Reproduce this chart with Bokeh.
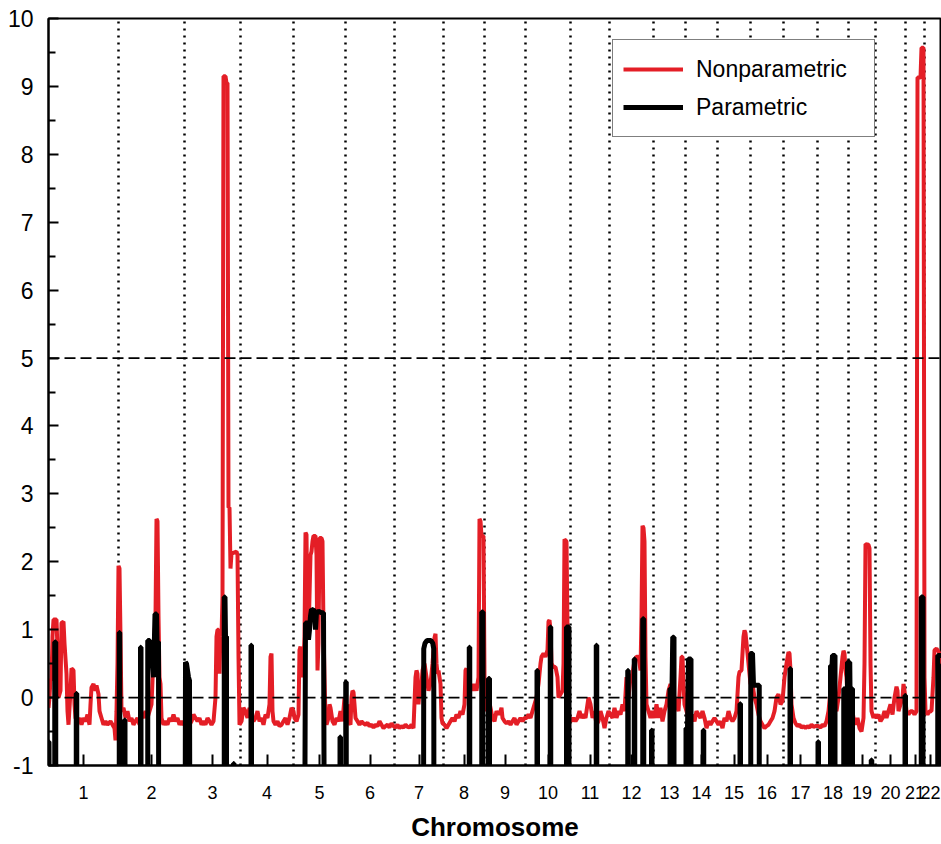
import numpy as np
from bokeh.plotting import figure
from bokeh.models import Legend, LegendItem, Span, FixedTicker, Range1d
from bokeh.embed import file_html
from bokeh.resources import INLINE

# ---------------- data ----------------
chromosomes = [str(i) for i in range(1, 23)]
chrom_lengths_cm = [280, 264, 224, 212, 208, 196, 196, 164, 164, 180, 156,
                    176, 128, 128, 132, 132, 136, 124, 108, 120, 76, 96]

# Nonparametric LOD (genome position in cM, LOD)
np_pos = [0, 4, 8, 12, 16, 20, 32, 36, 40, 48, 52, 60, 64, 72, 76, 80, 88, 92, 100, 104,
          108, 116, 124, 132, 140, 148, 156, 164, 168, 172, 180, 188, 192, 200, 204, 212,
          220, 228, 236, 248, 256, 264, 268, 272, 276,
          280, 284, 288, 292, 300, 308, 316, 324, 332, 340, 348, 356, 364, 372, 380, 388,
          396, 404, 412, 420, 428, 432, 436, 440, 444, 448, 452, 460, 468, 476, 484, 492,
          500, 508, 516, 524, 532, 540,
          548, 556, 564, 572, 580, 588, 596, 604, 612, 620, 628, 636, 644, 652, 660, 668,
          672, 676, 680, 684, 688, 692, 696, 700, 708, 712, 716, 720, 724, 728, 732, 752,
          756, 760, 764,
          772, 780, 788, 796, 804, 812, 820, 828, 836, 844, 852, 860, 868, 876, 884, 888,
          892, 896, 900, 908, 916, 924, 932, 940, 948, 956, 964, 972, 980,
          984, 992, 1000, 1004, 1008, 1012, 1020, 1024, 1028, 1032, 1036, 1040, 1044, 1048,
          1052, 1056, 1060, 1068, 1072, 1076, 1080, 1084, 1092, 1096, 1100, 1104, 1108,
          1112, 1120, 1124, 1128, 1136, 1144, 1152, 1160, 1168, 1176, 1184,
          1188, 1196, 1200, 1208, 1212, 1216, 1220, 1224, 1228, 1236, 1244, 1252, 1260,
          1268, 1276, 1284, 1292, 1300, 1308, 1316, 1324, 1332, 1340, 1348, 1356, 1364,
          1372, 1380,
          1388, 1396, 1404, 1412, 1420, 1428, 1436, 1444, 1452, 1460, 1468, 1472, 1476,
          1480, 1484, 1488, 1496, 1504, 1512, 1520, 1528, 1536, 1544, 1548, 1552, 1556,
          1560, 1568, 1572, 1576,
          1584, 1592, 1600, 1608, 1616, 1624, 1632, 1640, 1648, 1656, 1664, 1668, 1672,
          1676, 1680, 1688, 1696, 1704, 1712, 1720, 1724, 1728, 1732, 1740,
          1744, 1748, 1756, 1760, 1768, 1776, 1784, 1792, 1800, 1808, 1812, 1816, 1824,
          1832, 1840, 1848, 1856, 1864, 1872, 1880, 1888, 1896, 1904,
          1912, 1920, 1928, 1936, 1944, 1952, 1960, 1968, 1972, 1980, 1988, 1996, 2000,
          2004, 2008, 2012, 2020, 2028, 2036, 2040, 2048, 2056, 2060, 2064, 2072, 2076,
          2080, 2084,
          2092, 2100, 2108, 2116, 2124, 2132, 2140, 2148, 2156, 2160, 2168, 2176, 2184,
          2192, 2200, 2208, 2216, 2224, 2232, 2240,
          2248, 2256, 2264, 2272, 2280, 2288, 2296, 2304, 2312, 2320, 2328, 2336, 2344,
          2352, 2360, 2368, 2372, 2376, 2380, 2384, 2388, 2392, 2400, 2408, 2416,
          2424, 2432, 2440, 2448, 2456, 2464, 2472, 2480, 2488, 2496, 2504, 2512, 2520,
          2528, 2532, 2536, 2540, 2544,
          2552, 2560, 2568, 2576, 2584, 2592, 2600, 2608, 2616, 2624, 2632, 2640, 2648,
          2656, 2664, 2672,
          2680, 2688, 2696, 2704, 2712, 2720, 2728, 2736, 2744, 2752, 2760, 2764, 2772,
          2780, 2784, 2788, 2792, 2800,
          2808, 2816, 2824, 2832, 2840, 2848, 2856, 2864, 2872, 2880, 2888, 2896, 2904,
          2912, 2920, 2928, 2936,
          2944, 2952, 2960, 2964, 2968, 2972, 2980, 2988, 2996, 3004, 3012, 3020, 3028,
          3036, 3044, 3052, 3060, 3068,
          3080, 3088, 3096, 3104, 3112, 3120, 3128, 3136, 3144, 3152, 3160, 3168, 3176,
          3180, 3184, 3188, 3192, 3196,
          3204, 3212, 3220, 3228, 3236, 3244, 3252, 3260, 3264, 3268, 3280, 3284, 3288,
          3292, 3300, 3304,
          3312, 3320, 3328, 3336, 3344, 3352, 3360, 3368, 3376, 3384, 3392, 3396, 3400,
          3408, 3416, 3420, 3424,
          3432, 3440, 3448, 3456, 3464, 3472, 3476, 3488, 3492, 3500, 3504,
          3508, 3516, 3524, 3532, 3540, 3544, 3552, 3560, 3568, 3576]
np_lod = [-0.15, 0.0, 0.28, 0.25, 0.9, 1.15, 1.15, 0.7, 0.0, 0.1, 1.1, 1.12, 0.8, 0.35, -0.2,
          -0.4, 0.1, 0.43, 0.4, -0.1, -0.3, -0.35, -0.3, -0.4, -0.3, -0.35, -0.25, -0.4,
          -0.1, 0.15, 0.2, 0.1, 0.18, 0.05, -0.2, -0.3, -0.4, -0.35, -0.4, -0.35, -0.4,
          -0.45, -0.63, -0.2, 0.5,
          1.94, 1.9, 0.9, -0.2, -0.15, -0.3, -0.2, -0.35, -0.3, -0.4, -0.35, -0.3, -0.4,
          -0.25, -0.3, -0.2, -0.3, -0.2, -0.1, 0.6, 1.2, 2.63, 2.6, 1.2, 0.3, 0.2, -0.3,
          -0.4, -0.35, -0.4, -0.3, -0.35, -0.25, -0.35, -0.3, -0.4, -0.35, -0.4,
          -0.35, -0.3, -0.4, -0.35, -0.25, -0.3, -0.35, -0.3, -0.4, -0.35, -0.4, -0.3,
          -0.35, -0.4, -0.35, 0.0, 0.9, 1.0, 1.0, 0.35, 1.0, 0.9, 1.5, 9.15, 9.15, 9.05,
          9.05, 2.8, 2.8, 1.9, 2.12, 2.15, 2.1, 0.6, -0.4,
          -0.35, -0.15, -0.2, -0.3, -0.15, -0.25, -0.35, -0.3, -0.2, -0.35, -0.3, -0.4,
          -0.25, -0.3, -0.1, 0.6, 0.65, -0.2, -0.35, -0.4, -0.35, -0.42, -0.4, -0.35,
          -0.3, -0.4, -0.3, -0.15, -0.2,
          -0.3, -0.35, -0.25, 0.7, 0.75, 0.3, 0.5, 0.9, 2.43, 2.4, 0.9, 0.9, 1.5, 2.1,
          2.15, 2.3, 2.38, 2.38, 2.1, 0.4, 0.8, 2.35, 2.35, 2.3, 1.0, 0.3, -0.3, -0.4,
          -0.3, -0.1, -0.15, -0.35, -0.4, -0.3, -0.35, -0.2, -0.35, 0.0,
          -0.2, -0.1, -0.35, -0.4, 0.0, 0.1, 0.08, -0.1, -0.3, -0.35, -0.4, -0.35, -0.38,
          -0.4, -0.37, -0.42, -0.4, -0.44, -0.4, -0.42, -0.35, -0.4, -0.45, -0.42, -0.4,
          -0.44, -0.38, -0.42,
          -0.44, -0.4, -0.45, -0.42, -0.44, -0.4, -0.43, -0.44, -0.4, -0.45, 0.3, 0.4,
          0.35, -0.1, 0.1, 0.0, 0.4, 0.5, 0.3, 0.1, 0.2, 0.5, 0.88, 0.94, 0.5, 0.35, 0.4,
          0.2, -0.3, -0.38,
          -0.4, -0.45, -0.4, -0.35, -0.3, -0.35, -0.25, -0.3, -0.2, -0.25, -0.1, 0.4,
          0.43, 0.1, 0.0, 0.2, 0.1, 0.2, 0.1, 0.3, 2.63, 2.6, 2.38, 2.38,
          0.3, -0.2, -0.1, 0.0, -0.15, -0.3, -0.35, -0.2, -0.25, -0.2, -0.15, -0.3,
          -0.35, -0.38, -0.35, -0.4, -0.35, -0.3, -0.4, -0.35, -0.3, -0.35, -0.3,
          -0.3, -0.25, -0.3, -0.2, -0.1, 0.0, 0.2, 0.5, 0.6, 0.65, 0.6, 0.7, 1.12, 1.14,
          1.0, 0.5, 0.45, 0.45, 0.3, 0.0, 0.05, 0.1, 0.5, 2.33, 2.3, 1.0, -0.2, -0.3,
          -0.35, -0.3, -0.35, -0.3, -0.2, -0.3, -0.25, -0.3, -0.1, 0.0, -0.1, -0.3, -0.2,
          -0.4, -0.35, -0.2, -0.3, -0.45, -0.3, -0.2,
          -0.25, -0.3, -0.15, -0.3, -0.2, -0.25, -0.1, -0.2, 0.3, 0.0, 0.3, 0.35, 0.55,
          0.6, 0.6, 0.4, 1.2, 2.53, 2.5, 2.3, 0.6, -0.1, -0.2, -0.3, -0.2,
          -0.3, -0.1, -0.3, -0.15, -0.35, -0.2, -0.1, 0.1, 0.2, 0.1, 0.0, -0.1, -0.2,
          0.3, 0.6, 0.6, 0.2, -0.1,
          -0.2, -0.3, -0.35, -0.25, -0.35, -0.2, -0.25, -0.3, -0.2, -0.3, -0.45, -0.35,
          -0.4, -0.35, -0.3, -0.35,
          -0.4, -0.35, -0.45, -0.3, -0.35, -0.2, -0.3, -0.35, -0.3, -0.2, 0.3, 0.38, 0.4,
          0.9, 0.99, 0.95, 0.8, 0.5,
          0.2, 0.2, 0.0, -0.1, -0.25, -0.35, -0.4, -0.45, -0.42, -0.4, -0.35, -0.3, -0.2,
          0.0, 0.05, -0.1, -0.05,
          0.3, 0.5, 0.67, 0.65, 0.4, -0.1, -0.3, -0.38, -0.42, -0.4, -0.44, -0.42, -0.45,
          -0.42, -0.44, -0.4, -0.43, -0.42,
          -0.42, -0.44, -0.4, -0.42, -0.35, -0.2, 0.1, 0.4, -0.1, -0.2, 0.0, 0.3, 0.6,
          0.69, 0.65, 0.4, 0.3, 0.0,
          -0.2, -0.1, -0.3, -0.4, -0.3, -0.45, -0.5, -0.3, 0.5, 2.26, 2.25, 2.2, 0.5,
          -0.2, -0.3, -0.25,
          -0.3, -0.25, -0.35, -0.3, -0.2, -0.3, -0.2, -0.1, -0.25, 0.0, 0.16, 0.1, -0.2,
          -0.1, 0.0, 0.2, 0.1,
          -0.2, -0.25, -0.2, -0.2, -0.25, -0.2, 9.13, 9.13, 9.57, 9.57, 0.3,
          -0.2, -0.25, -0.2, -0.2, 0.3, 0.7, 0.72, 0.68, 0.6, 0.5]

# Parametric LOD (values far below -1 fall off the bottom of the axis)
p_pos = [0, 2, 4,
         25, 25, 29, 29, 111, 111, 113, 113,
         283, 283, 285, 285, 304, 304, 306, 306, 368, 368, 370, 370,
         397, 397, 405, 407, 415, 420, 426, 432, 434, 440, 441,
         546, 548, 552, 560, 564, 566,
         703, 703, 706, 708, 712, 712, 740, 740, 742, 742,
         810, 810, 812, 812,
         1024, 1028, 1036, 1040, 1044, 1048, 1052, 1064, 1068, 1072, 1080, 1092, 1100, 1104,
         1166, 1166, 1168, 1168, 1189, 1189, 1191, 1191,
         1500, 1501, 1506, 1514, 1530, 1537, 1541, 1542,
         1683, 1683, 1685, 1685, 1733, 1733, 1738, 1738, 1760, 1760, 1764, 1764,
         1954, 1954, 1956, 1956, 2007, 2007, 2009, 2009, 2072, 2072, 2082, 2082,
         2191, 2191, 2193, 2193,
         2317, 2317, 2319, 2319, 2343, 2343, 2345, 2345, 2377, 2377, 2381, 2381,
         2412, 2412, 2414, 2414,
         2486, 2486, 2494, 2497, 2502, 2502,
         2550, 2550, 2556, 2560, 2570, 2570, 2619, 2619, 2621, 2621,
         2766, 2766, 2768, 2768, 2809, 2809, 2816, 2820, 2843, 2843,
         2966, 2966, 2968, 2968, 3078, 3078, 3080, 3080,
         3128, 3128, 3134, 3136, 3146, 3146,
         3181, 3181, 3184, 3184, 3196, 3196, 3205, 3206, 3216, 3216,
         3291, 3291, 3293, 3293, 3426, 3426, 3428, 3428,
         3491, 3491, 3498, 3498, 3557, 3557, 3576]
p_lod = [-0.65, -0.65, -3,
         -3, 0.82, 0.82, -3, -3, 0.06, 0.06, -3,
         -3, 0.96, 0.96, -3, -3, -0.33, -0.33, -3, -3, 0.74, 0.74, -3,
         -3, 0.84, 0.84, 0.55, 0.55, 0.3, 1.23, 1.23, 0.82, 0.82, -3,
         -3, 0.52, 0.5, 0.3, 0.25, -3,
         -3, 1.48, 1.48, 0.9, 0.9, -3, -3, -0.97, -0.97, -3,
         -3, 0.77, 0.77, -3,
         -3, 1.1, 1.1, 0.85, 1.0, 1.2, 1.3, 1.28, 1.0, 1.25, 1.27, 1.25, 1.25, -3,
         -3, -0.58, -0.58, -3, -3, 0.23, 0.23, -3,
         -3, 0.72, 0.8, 0.84, 0.84, 0.8, 0.72, -3,
         -3, 0.74, 0.74, -3, -3, 1.26, 1.26, -3, -3, 0.28, 0.28, -3,
         -3, 0.4, 0.4, -3, -3, 1.04, 1.04, -3, -3, 1.04, 1.04, -3,
         -3, 0.77, 0.77, -3,
         -3, 0.4, 0.4, -3, -3, 0.57, 0.57, -3, -3, 1.16, 1.16, -3,
         -3, -0.48, -0.48, -3,
         -3, 0.13, 0.13, 0.89, 0.89, -3,
         -3, -0.45, -0.45, 0.57, 0.57, -3, -3, -0.48, -0.48, -3,
         -3, -0.09, -0.09, -3, -3, 0.65, 0.65, 0.18, 0.18, -3,
         -3, 0.43, 0.43, -3, -3, -0.65, -0.65, -3,
         -3, 0.47, 0.47, 0.62, 0.62, -3,
         -3, 0.13, 0.13, -3, -3, 0.52, 0.52, 0.13, 0.13, -3,
         -3, -0.92, -0.92, -3, -3, 0.03, 0.03, -3,
         -3, 1.48, 1.48, -3, -3, 0.62, 0.62]

y_ticks = list(range(-1, 11))
thresholds = [0, 5]

# ---------------- derived layout ----------------
starts = np.concatenate([[0], np.cumsum(chrom_lengths_cm)[:-1]])
ends = np.cumsum(chrom_lengths_cm)
X_END = 3572
boundaries = [int(b) for b in ends[:-1]]
centers = [int(min(s + l // 2, X_END - 44)) for s, l in zip(starts, chrom_lengths_cm)]

FONT = "Liberation Sans"
RED = "#e41e26"

p = figure(width=941, height=844, output_backend="svg", toolbar_location=None,
           x_range=Range1d(0, X_END), y_range=Range1d(-1, 10),
           min_border_left=48, min_border_top=18, min_border_right=0,
           min_border_bottom=77)
p.background_fill_color = "white"
p.border_fill_color = "white"
p.xgrid.visible = False
p.ygrid.visible = False
p.outline_line_color = "black"
p.outline_line_width = 2

# chromosome boundaries
p.segment(x0=boundaries, y0=[-1] * len(boundaries), x1=boundaries, y1=[10] * len(boundaries),
          line_color="black", line_width=2.5, line_dash="2 5")
for t in thresholds:
    p.add_layout(Span(location=t, dimension="width", line_color="black",
                      line_width=1.8, line_dash="11 5"))

r_np = p.line(np_pos, np_lod, line_color=RED, line_width=4)
r_p = p.line(p_pos, p_lod, line_color="black", line_width=5)

# axes
xa = p.xaxis[0]
xa.ticker = FixedTicker(ticks=centers)
xa.major_label_overrides = {c: n for c, n in zip(centers, chromosomes)}
xa.major_tick_in = 11
xa.major_tick_out = 0
xa.minor_tick_line_color = None
xa.major_tick_line_width = 2
xa.axis_line_width = 2
xa.axis_line_color = "black"
xa.major_label_text_font = FONT
xa.major_label_text_font_size = "18px"
xa.major_label_text_color = "black"
xa.major_label_standoff = 20
xa.axis_label = "Chromosome"
xa.axis_label_text_font = FONT
xa.axis_label_text_font_size = "26px"
xa.axis_label_text_font_style = "bold"
xa.axis_label_text_color = "black"
xa.axis_label_standoff = 10

ya = p.yaxis[0]
ya.ticker = FixedTicker(ticks=y_ticks, minor_ticks=[t + 0.5 for t in y_ticks[:-1]])
ya.major_label_overrides = {t: str(t) for t in y_ticks}
ya.major_tick_in = 10
ya.major_tick_out = 0
ya.minor_tick_in = 7
ya.minor_tick_out = 0
ya.major_tick_line_width = 2
ya.minor_tick_line_width = 2
ya.axis_line_width = 2
ya.axis_line_color = "black"
ya.major_label_text_font = FONT
ya.major_label_text_font_size = "23px"
ya.major_label_text_color = "black"
ya.major_label_standoff = 15

legend = Legend(items=[LegendItem(label="Nonparametric", renderers=[r_np]),
                       LegendItem(label="Parametric", renderers=[r_p])],
                location=(564, 628))
legend.label_text_font = FONT
legend.label_text_font_size = "23px"
legend.label_text_color = "black"
legend.glyph_width = 60
legend.glyph_height = 38
legend.label_height = 38
legend.label_width = 168
legend.label_standoff = 13
legend.padding = 10
legend.spacing = 0
legend.margin = 0
legend.border_line_color = "black"
legend.border_line_width = 1.5
legend.background_fill_color = "white"
legend.background_fill_alpha = 1.0
p.add_layout(legend)

open("out.html", "w").write(file_html(p, INLINE))
